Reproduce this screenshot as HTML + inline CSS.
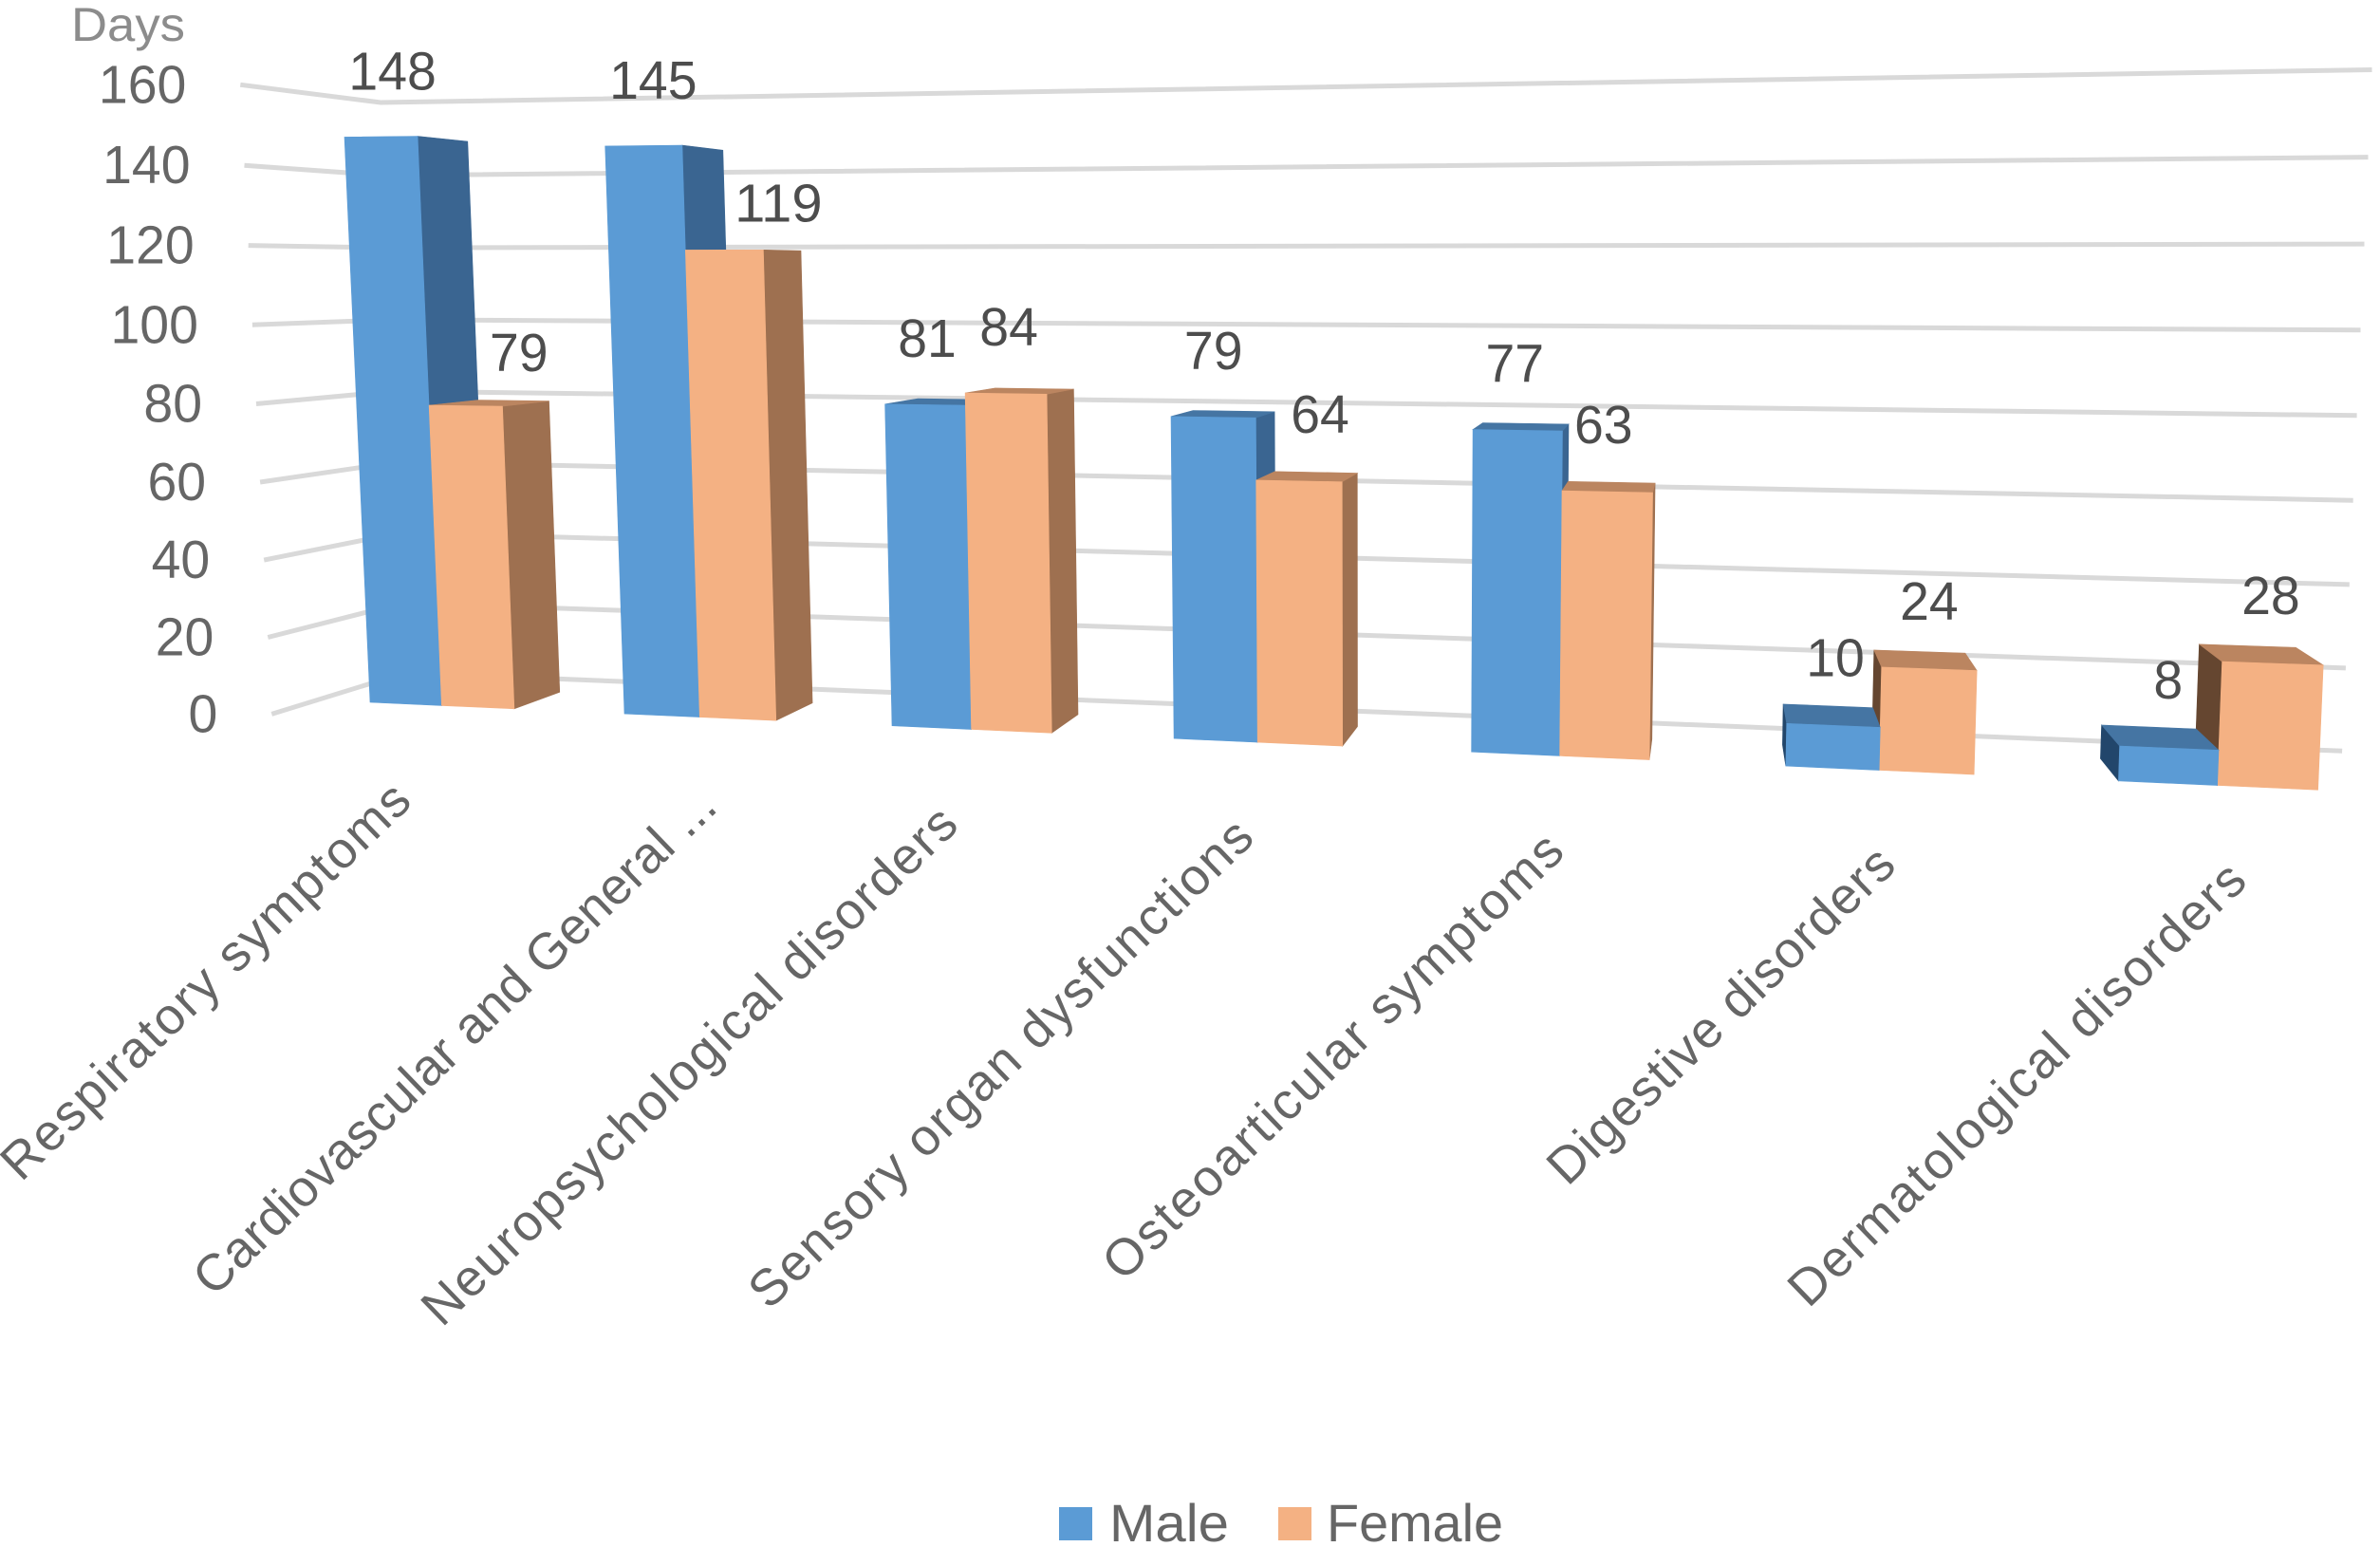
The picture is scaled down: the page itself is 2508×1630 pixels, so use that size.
<!DOCTYPE html>
<html lang="en">
<head>
<meta charset="utf-8">
<title>Days by symptom group and sex</title>
<style>
  html, body { margin: 0; padding: 0; background: #ffffff; }
  svg { display: block; font-family: "Liberation Sans", sans-serif; }
</style>
</head>
<body>
<svg id="chart" xmlns="http://www.w3.org/2000/svg" width="2508" height="1630" viewBox="0 0 2508 1630">
  <rect x="0" y="0" width="2508" height="1630" fill="#ffffff"/>
  <text x="75" y="43" font-size="50" fill="#8c8c8c" textLength="120" lengthAdjust="spacingAndGlyphs">Days</text>
  <g id="gridlines"></g>
  <g id="y-ticks"></g>
  <g id="bars"></g>
  <g id="value-labels"></g>
  <g id="category-labels"></g>
  <g>
    <g>
      <rect x="1116" y="1588" width="35" height="35" fill="#5b9bd5"/>
      <text x="1169" y="1624" font-size="56" fill="#666666" textLength="126" lengthAdjust="spacingAndGlyphs">Male</text>
    </g>
    <g>
      <rect x="1347" y="1588" width="35" height="35" fill="#f4b183"/>
      <text x="1398" y="1624" font-size="56" fill="#666666" textLength="186" lengthAdjust="spacingAndGlyphs">Female</text>
    </g>
  </g>
</svg>
<script>
const categories = [
  "Respiratory symptoms",
  "Cardiovascular and General ...",
  "Neuropsychological disorders",
  "Sensory organ dysfunctions",
  "Osteoarticular symptoms",
  "Digestive disorders",
  "Dermatological disorders"
];
const maleDays = [148, 145, 81, 79, 77, 10, 8];
const femaleDays = [79, 119, 84, 64, 63, 24, 28];
const yTicks = [0, 20, 40, 60, 80, 100, 120, 140, 160];

/* Layout constants of the 3D view (not data) */
const BAR_WIDTH = 0.2865;
const GAP_HALF = 0.2135;
const BAR_DEPTH = 0.039;
const WALL_FRONT = -0.032;
const WALL_BACK = 0.068;
const VANISH_X = 1800;
const VANISH_Y = 285;
const valueLabelShiftMale = [12, 10, 2, 0, -3, 2, -1];
const valueLabelShiftFemale = [56, 57, 3, 22, -4, 0, -2];
const valueLabelDropFemale = [14, 20, 0, 0, 0, 0, 0];
const categoryLabelShift = [-33, 16, -15, -5, 4, 16, 30];
const categoryLabelLift = [0, 5, 0, 0, 0, 0, 0];
const categoryLabelSpacing = [2, 0.3, 1.9, 1.9, 2.4, 1.4, 2.1];

const NS = "http://www.w3.org/2000/svg";

/* Perspective axis function: u = position along category axis, v = days, t = depth */
function project(u, v, t) {
  const w = 1 - 0.0248 * u - 0.000168 * v + t;
  return {
    x: (390 + 251.7 * u - 0.2436 * v + VANISH_X * t) / w,
    y: (740 - 6.6 * u - 4.0488 * v + VANISH_Y * t) / w
  };
}
function pts(list) {
  return list.map(function (p) { return p.x.toFixed(1) + "," + p.y.toFixed(1); }).join(" ");
}
function makePolygon(parent, list, fill) {
  const el = document.createElementNS(NS, "polygon");
  el.setAttribute("points", pts(list));
  el.setAttribute("fill", fill);
  el.setAttribute("stroke", fill);
  el.setAttribute("stroke-width", "0.6");
  parent.appendChild(el);
  return el;
}
function makeText(parent, x, y, str, size, fill, anchor) {
  const el = document.createElementNS(NS, "text");
  el.setAttribute("x", x.toFixed(1));
  el.setAttribute("y", y.toFixed(1));
  el.setAttribute("font-size", size);
  el.setAttribute("fill", fill);
  el.setAttribute("text-anchor", anchor);
  el.textContent = str;
  parent.appendChild(el);
  return el;
}
function fitDigits(el, str) {
  el.setAttribute("textLength", (str.length * 30.8).toFixed(1));
  el.setAttribute("lengthAdjust", "spacingAndGlyphs");
}

/* Gridlines and tick labels */
const gridGroup = document.getElementById("gridlines");
const tickGroup = document.getElementById("y-ticks");
const uLeft = -GAP_HALF;
const uRight = categories.length - 1 + 2 * BAR_WIDTH + GAP_HALF;
yTicks.forEach(function (tick) {
  const a = project(uLeft, tick, WALL_FRONT);
  const b = project(uLeft, tick, WALL_BACK);
  const c = project(uRight, tick, WALL_BACK);
  c.y -= 3;
  const line = document.createElementNS(NS, "polyline");
  line.setAttribute("points", pts([a, b, c]));
  line.setAttribute("fill", "none");
  line.setAttribute("stroke", "#d9d9d9");
  line.setAttribute("stroke-width", "5");
  
  
  gridGroup.appendChild(line);
  const label = makeText(tickGroup, a.x - 57, a.y + 19, String(tick), 57, "#666666", "end");
  fitDigits(label, String(tick));
  
  
});

/* Bars */
const maleColors = { front: "#5b9bd5", right: "#3a6591", left: "#22466b", top: "#4575a3" };
const femaleColors = { front: "#f4b183", right: "#9e7050", left: "#654630", top: "#bb8560" };

function drawBar(parent, uStart, value, colors, barName) {
  const uEnd = uStart + BAR_WIDTH;
  const bl = project(uStart, 0, 0), br = project(uEnd, 0, 0);
  const tl = project(uStart, value, 0), tr = project(uEnd, value, 0);
  const bbl = project(uStart, 0, BAR_DEPTH), bbr = project(uEnd, 0, BAR_DEPTH);
  const btl = project(uStart, value, BAR_DEPTH), btr = project(uEnd, value, BAR_DEPTH);
  const g = document.createElementNS(NS, "g");
  
  
  parent.appendChild(g);
  if (btr.x > tr.x) {
    const rightFace = makePolygon(g, [tr, btr, bbr, br], colors.right);
    
    
  }
  if (btl.x < tl.x) {
    const leftFace = makePolygon(g, [tl, btl, bbl, bl], colors.left);
    
    
  }
  if (btl.y < tl.y) {
    const topFace = makePolygon(g, [tl, btl, btr, tr], colors.top);
    
    
  }
  const frontFace = makePolygon(g, [tl, tr, br, bl], colors.front);
  
  
}

const barsGroup = document.getElementById("bars");
const valueGroup = document.getElementById("value-labels");
const categoryGroup = document.getElementById("category-labels");

categories.forEach(function (category, i) {
  const mid = project(i + BAR_WIDTH, 0, 0);
  const group = document.createElementNS(NS, "g");
  
  
  barsGroup.appendChild(group);
  /* Painter order flips once a group passes the depth vanishing point */
  if (mid.x < VANISH_X) {
    drawBar(group, i, maleDays[i], maleColors, "bar-male-" + (i + 1));
    drawBar(group, i + BAR_WIDTH, femaleDays[i], femaleColors, "bar-female-" + (i + 1));
  } else {
    drawBar(group, i + BAR_WIDTH, femaleDays[i], femaleColors, "bar-female-" + (i + 1));
    drawBar(group, i, maleDays[i], maleColors, "bar-male-" + (i + 1));
  }

  const mTL = project(i, maleDays[i], 0), mTR = project(i + BAR_WIDTH, maleDays[i], 0);
  const maleStr = String(maleDays[i]);
  const maleLabel = makeText(valueGroup, (mTL.x + mTR.x) / 2 + valueLabelShiftMale[i], mTL.y - 50, maleStr, 57, "#4d4d4d", "middle");
  fitDigits(maleLabel, maleStr);
  
  

  const fTL = project(i + BAR_WIDTH, femaleDays[i], 0), fTR = project(i + 2 * BAR_WIDTH, femaleDays[i], 0);
  const femaleStr = String(femaleDays[i]);
  const femaleLabel = makeText(valueGroup, (fTL.x + fTR.x) / 2 + valueLabelShiftFemale[i], fTL.y - 50 + valueLabelDropFemale[i], femaleStr, 57, "#4d4d4d", "middle");
  fitDigits(femaleLabel, femaleStr);
  
  

  const cx = mid.x + categoryLabelShift[i] + 5;
  const cy = mid.y + 102 - categoryLabelLift[i];
  const catLabel = makeText(categoryGroup, cx, cy, category, 54, "#666666", "end");
  catLabel.setAttribute("letter-spacing", categoryLabelSpacing[i]);
  catLabel.setAttribute("transform", "rotate(-44 " + cx.toFixed(1) + " " + cy.toFixed(1) + ")");
  
  
});
</script>
</body>
</html>
